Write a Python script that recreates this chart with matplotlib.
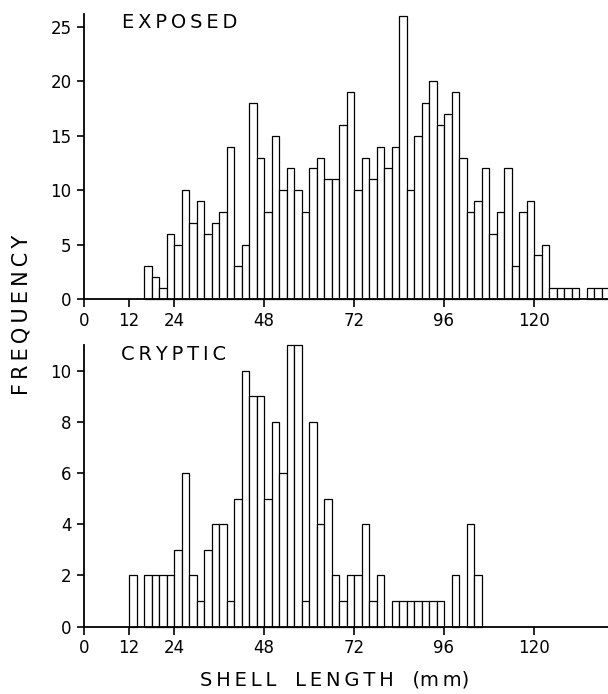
import matplotlib
matplotlib.use("Agg")
import matplotlib.pyplot as plt
import numpy as np

BIN_WIDTH = 2

# Exposed: bins start at 16 mm, 2-mm bins
exposed_bin_start = list(range(16, 140, 2))
exposed_counts = [3, 2, 1, 6, 5, 10, 7, 9, 6, 7, 8, 14, 3, 5, 18, 13,
                  8, 15, 10, 12, 10, 8, 12, 13, 11, 11, 16, 19, 10, 13, 11, 14,
                  12, 14, 26, 10, 15, 18, 20, 16, 17, 19, 13, 8, 9, 12, 6, 8,
                  12, 3, 8, 9, 4, 5, 1, 1, 1, 1, 0, 1, 1, 1]

# Cryptic: bins start at 12 mm
cryptic_bin_start = list(range(12, 106, 2))
cryptic_counts = [2, 0, 2, 2, 2, 2, 3, 6, 2, 1, 3, 4, 4, 1, 5, 10,
                  9, 9, 5, 8, 6, 11, 11, 1, 8, 4, 5, 2, 1, 2, 2, 4,
                  1, 2, 0, 1, 1, 1, 1, 1, 1, 1, 0, 2, 0, 4, 2]

x_ticks = [0, 12, 24, 48, 72, 96, 120]
x_tick_labels = ["0", "12", "24", "48", "72", "96", "120"]
exposed_yticks = [0, 5, 10, 15, 20, 25]
cryptic_yticks = [0, 2, 4, 6, 8, 10]

plt.rcParams['font.family'] = ['DejaVu Sans']

W, H = 608, 694
fig = plt.figure(figsize=(W / 100, H / 100), dpi=100)
fig.patch.set_facecolor('white')

x0 = 84
xw = 525


def style(ax, yticks, ymax):
    ax.set_xlim(0, 140)
    ax.set_ylim(0, ymax)
    for s in ['top', 'right']:
        ax.spines[s].set_visible(False)
    for s in ['left', 'bottom']:
        ax.spines[s].set_linewidth(1.3)
        ax.spines[s].set_color('black')
    ax.set_xticks(x_ticks)
    ax.set_xticklabels(x_tick_labels)
    ax.set_yticks(yticks)
    ax.tick_params(axis='x', direction='out', length=6, width=1.2,
                   labelsize=12, pad=3)
    ax.tick_params(axis='y', direction='out', length=5, width=1.2,
                   labelsize=12, pad=4)
    ax.set_facecolor('none')


ax1 = fig.add_axes([x0 / W, 1 - 299 / H, xw / W, 285 / H])
e = [(s, c) for s, c in zip(exposed_bin_start, exposed_counts) if c > 0]
ax1.bar([s for s, _ in e], [c for _, c in e], width=BIN_WIDTH, align='edge',
        color='white', edgecolor='black', linewidth=0.9, clip_on=False,
        zorder=2)
style(ax1, exposed_yticks, 26.2)

ax2 = fig.add_axes([x0 / W, 1 - 626.7 / H, xw / W, 281.7 / H])
c_ = [(s, c) for s, c in zip(cryptic_bin_start, cryptic_counts) if c > 0]
ax2.bar([s for s, _ in c_], [c for _, c in c_], width=BIN_WIDTH, align='edge',
        color='white', edgecolor='black', linewidth=0.9, clip_on=False,
        zorder=2)
style(ax2, cryptic_yticks, 11)

fig.text(122 / W, 1 - 22 / H, "E\u2009X\u2009P\u2009O\u2009S\u2009E\u2009D",
         fontsize=14, ha='left', va='center')
fig.text(121 / W, 1 - 355 / H, "C\u2009R\u2009Y\u2009P\u2009T\u2009I\u2009C",
         fontsize=14, ha='left', va='center')
fig.text(21 / W, 1 - 315 / H, "F\u2009R\u2009E\u2009Q\u2009U\u2009E\u2009N\u2009C\u2009Y",
         fontsize=15, rotation=90, ha='center', va='center')
fig.text(335 / W, 1 - 680 / H,
         "S\u2009H\u2009E\u2009L\u2009L   L\u2009E\u2009N\u2009G\u2009T\u2009H   (m\u2009m)",
         fontsize=14, ha='center', va='center')

fig.savefig("out.png", dpi=100, facecolor='white')
